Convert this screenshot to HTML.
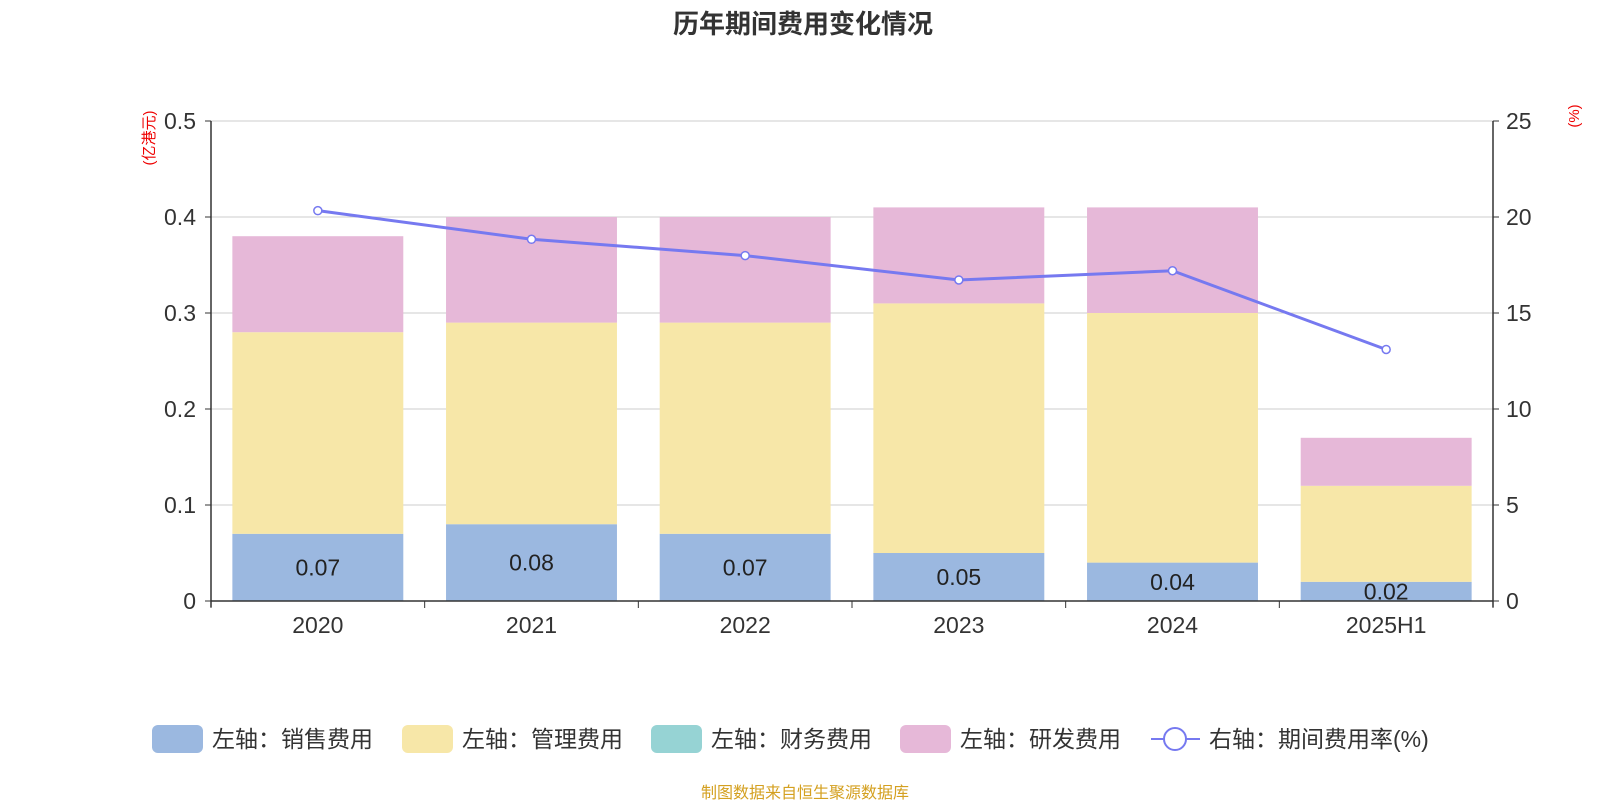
<!DOCTYPE html>
<html><head><meta charset="utf-8"><style>
body{margin:0;background:#fff;font-family:"Liberation Sans","Noto Sans CJK SC",sans-serif}
</style></head><body>
<svg id="c" width="1600" height="800" xmlns="http://www.w3.org/2000/svg" font-family="Liberation Sans, Noto Sans CJK SC, sans-serif">
<text x="803" y="33" text-anchor="middle" font-size="26" font-weight="bold" fill="#333">历年期间费用变化情况</text>
<text transform="translate(154,138) rotate(-90)" text-anchor="middle" font-size="15" fill="#e00">(亿港元)</text>
<text transform="translate(1579,116) rotate(-90)" text-anchor="middle" font-size="15" fill="#e00">(%)</text>
<g id="grid"></g><g id="bars"></g><g id="axes"></g><g id="line"></g><g id="legend"></g>
<text x="805" y="798" text-anchor="middle" font-size="16" fill="#d4a020">制图数据来自恒生聚源数据库</text>
</svg>
<script>
const categories=["2020","2021","2022","2023","2024","2025H1"];
const sales=[0.07,0.08,0.07,0.05,0.04,0.02];
const admin=[0.21,0.21,0.22,0.26,0.26,0.10];
const finance=[0,0,0,0,0,0];
const rd=[0.10,0.11,0.11,0.10,0.11,0.05];
const rate=[20.33,18.84,17.99,16.72,17.2,13.1];
const leftTicks=[0,0.1,0.2,0.3,0.4,0.5];
const leftLabels=["0","0.1","0.2","0.3","0.4","0.5"];
const rightTicks=[0,5,10,15,20,25];
const NS="http://www.w3.org/2000/svg";
const X0=211,X1=1493,Y0=601,Y1=121;
const bw=(X1-X0)/categories.length;
const yL=v=>Y0-(v/0.5)*(Y0-Y1);
const yR=v=>Y0-(v/25)*(Y0-Y1);
const xC=i=>X0+bw*(i+0.5);
function mk(t,a,p){const e=document.createElementNS(NS,t);for(const k in a)e.setAttribute(k,a[k]);p.appendChild(e);return e;}
const g=document.getElementById('grid'),b=document.getElementById('bars'),ax=document.getElementById('axes'),ln=document.getElementById('line'),lg=document.getElementById('legend');
leftTicks.forEach((v,i)=>{
 if(v>0){const l=mk('line',{x1:X0,x2:X1,y1:yL(v),y2:yL(v),stroke:'#ccc'},g);
 
 }
 const t=mk('text',{x:X0-15,y:yL(v)+8,'text-anchor':'end','font-size':23,fill:'#333'},ax);t.textContent=leftLabels[i];
 
 
 mk('line',{x1:X0-6,x2:X0,y1:yL(v),y2:yL(v),stroke:'#333'},ax);
});
rightTicks.forEach(v=>{
 const t=mk('text',{x:X1+13,y:yR(v)+8,'font-size':23,fill:'#333'},ax);t.textContent=v;
 
 
 mk('line',{x1:X1,x2:X1+6,y1:yR(v),y2:yR(v),stroke:'#333'},ax);
});
mk('line',{x1:X0,x2:X0,y1:Y1,y2:Y0+6,stroke:'#333','stroke-width':1.5},ax);
mk('line',{x1:X1,x2:X1,y1:Y1,y2:Y0+6,stroke:'#333','stroke-width':1.5},ax);
mk('line',{x1:X0,x2:X1,y1:Y0,y2:Y0,stroke:'#333','stroke-width':1.5},ax);
const cols=['#9bb8e0','#f7e7a8','#96d3d4','#e6b8d8'];
const series=[sales,admin,finance,rd];
const snames=['sales','admin','finance','rd'];
categories.forEach((c,i)=>{
 mk('line',{x1:X0+bw*i,x2:X0+bw*i,y1:Y0,y2:Y0+7,stroke:'#333'},ax);
 const t=mk('text',{x:xC(i),y:Y0+32,'text-anchor':'middle','font-size':23,fill:'#333'},ax);t.textContent=c;
 
 
 let acc=0;const w=bw*0.8;
 series.forEach((s,k)=>{
  const v=s[i];if(v<=0){return;}
  const r=mk('rect',{x:xC(i)-w/2,y:yL(acc+v),width:w,height:yL(acc)-yL(acc+v),fill:cols[k]},b);
  
  
  acc+=v;
 });
 const lt=mk('text',{x:xC(i),y:(yL(0)+yL(sales[i]))/2+8,'text-anchor':'middle','font-size':23,fill:'#222'},b);lt.textContent=sales[i].toFixed(2);
 
 
});
mk('line',{x1:X1,x2:X1,y1:Y0,y2:Y0+7,stroke:'#333'},ax);
const pl=mk('polyline',{points:rate.map((v,i)=>xC(i)+','+yR(v)).join(' '),fill:'none',stroke:'#7679f0','stroke-width':3},ln);


rate.forEach((v,i)=>{const p=mk('circle',{cx:xC(i),cy:yR(v),r:4,fill:'#fff',stroke:'#7679f0','stroke-width':1.5},ln);
 
 });
const leg=[['左轴：销售费用',cols[0],152],['左轴：管理费用',cols[1],402],['左轴：财务费用',cols[2],651],['左轴：研发费用',cols[3],900]];
leg.forEach(([n,cl,x])=>{
 const r=mk('rect',{x:x,y:725,width:51,height:28,rx:6,fill:cl},lg);
 
 
 const t=mk('text',{x:x+60,y:747,'font-size':23,fill:'#333'},lg);t.textContent=n;
 
 
});
mk('line',{x1:1151,x2:1200,y1:739,y2:739,stroke:'#7679f0','stroke-width':2},lg);
const lc=mk('circle',{cx:1175,cy:739,r:11,fill:'#fff',stroke:'#7679f0','stroke-width':2},lg);


const lt=mk('text',{x:1209,y:747,'font-size':23,fill:'#333'},lg);lt.textContent='右轴：期间费用率(%)';


</script>
</body></html>
